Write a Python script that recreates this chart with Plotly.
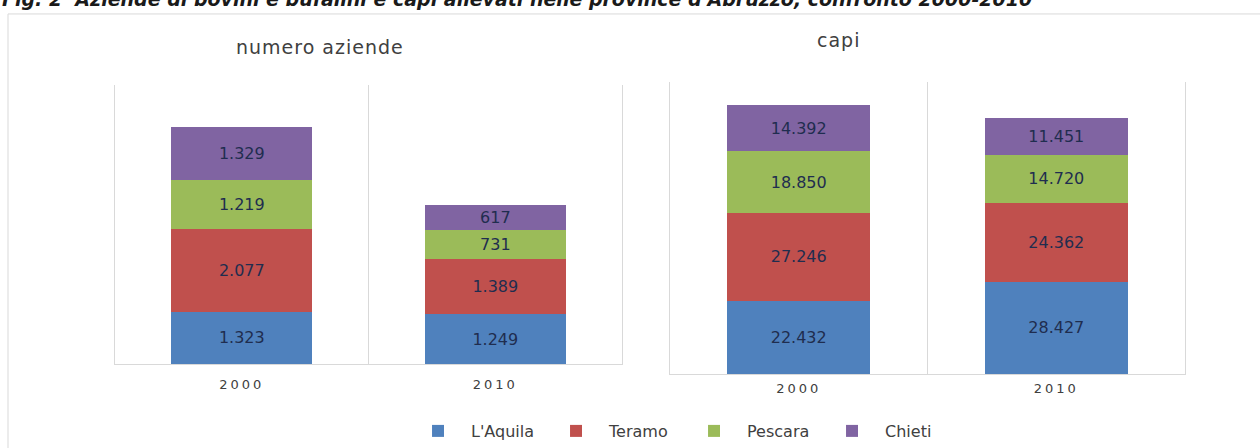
import plotly.graph_objects as go

# Anni di confronto
anni = ["2000", "2010"]

# Province d'Abruzzo e colori delle serie
province = ["L'Aquila", "Teramo", "Pescara", "Chieti"]
colori = ["#4F81BD", "#C0504D", "#9BBB59", "#8064A2"]

# Numero aziende con bovini e bufalini
aziende_laquila = [1323, 1249]
aziende_teramo = [2077, 1389]
aziende_pescara = [1219, 731]
aziende_chieti = [1329, 617]

# Capi allevati
capi_laquila = [22432, 28427]
capi_teramo = [27246, 24362]
capi_pescara = [18850, 14720]
capi_chieti = [14392, 11451]

serie_aziende = [aziende_laquila, aziende_teramo, aziende_pescara, aziende_chieti]
serie_capi = [capi_laquila, capi_teramo, capi_pescara, capi_chieti]

FONT = "DejaVu Sans"
LABEL_COLOR = "#1F2D4F"
GRID = "#D9D9D9"


def spaced(txt, px):
    """Testo con spaziatura tra i caratteri."""
    return f"<span style='letter-spacing:{px}px'>{txt}</span>"


fig = go.Figure()

for nome, colore, az, cp in zip(province, colori, serie_aziende, serie_capi):
    common = dict(
        name=nome,
        marker=dict(color=colore, line=dict(width=0)),
        texttemplate="%{y:,}",
        textposition="inside",
        insidetextanchor="middle",
        textangle=0,
        constraintext="none",
        textfont=dict(family=FONT, size=16, color=LABEL_COLOR),
        legendgroup=nome,
    )
    fig.add_trace(go.Bar(x=anni, y=az, xaxis="x", yaxis="y", showlegend=True, **common))
    fig.add_trace(go.Bar(x=anni, y=cp, xaxis="x2", yaxis="y2", showlegend=False, **common))

xaxis_style = dict(
    type="category",
    tickson="boundaries",
    tickmode="array",
    tickvals=anni,
    ticktext=[spaced(a, 3) for a in anni],
    showgrid=True,
    gridcolor=GRID,
    gridwidth=1,
    showline=True,
    linecolor=GRID,
    linewidth=1,
    ticks="",
    zeroline=False,
    tickfont=dict(family=FONT, size=13, color="#404040"),
    fixedrange=True,
)

yaxis_style = dict(
    visible=True,
    showticklabels=False,
    showgrid=False,
    zeroline=False,
    showline=True,
    mirror=True,
    linecolor=GRID,
    linewidth=1,
    ticks="",
    fixedrange=True,
)

fig.update_layout(
    width=1260,
    height=448,
    margin=dict(l=0, r=0, t=0, b=0),
    paper_bgcolor="white",
    plot_bgcolor="white",
    barmode="stack",
    bargap=0.445,
    separators=",.",
    xaxis=dict(domain=[0.0913, 0.4937], anchor="y", ticklabelstandoff=8, **xaxis_style),
    yaxis=dict(domain=[0.183, 0.810], range=[0, 7000], anchor="x", **yaxis_style),
    xaxis2=dict(domain=[0.5317, 0.9405], anchor="y2", ticklabelstandoff=2, **xaxis_style),
    yaxis2=dict(domain=[0.161, 0.817], range=[0, 90000], anchor="x2", **yaxis_style),
    showlegend=True,
    legend=dict(
        orientation="h",
        x=0.5405,
        xanchor="center",
        y=0.033,
        yanchor="middle",
        itemwidth=56,
        entrywidth=67,
        font=dict(family=FONT, size=16, color="#404040"),
        bgcolor="rgba(0,0,0,0)",
        traceorder="normal",
    ),
    shapes=[
        dict(
            type="rect",
            xref="paper",
            yref="paper",
            x0=8 / 1260,
            x1=1.01,
            y0=-0.01,
            y1=(448 - 14) / 448,
            line=dict(color=GRID, width=1),
            fillcolor="rgba(0,0,0,0)",
            layer="below",
        )
    ],
    annotations=[
        dict(
            text="Fig. 2  Aziende di bovini e bufalini e capi allevati nelle province d'Abruzzo, confronto 2000-2010",
            xref="paper",
            yref="paper",
            x=0,
            xanchor="left",
            y=0.972,
            yanchor="bottom",
            showarrow=False,
            font=dict(family=FONT, size=19, color="#1A1A1A", weight="bold", style="italic"),
        ),
        dict(
            text=spaced("numero aziende", 1),
            xref="paper",
            yref="paper",
            x=320 / 1260,
            y=(448 - 47) / 448,
            xanchor="center",
            yanchor="middle",
            showarrow=False,
            font=dict(family=FONT, size=19, color="#404040"),
        ),
        dict(
            text=spaced("capi", 1),
            xref="paper",
            yref="paper",
            x=838 / 1260,
            y=(448 - 40) / 448,
            xanchor="center",
            yanchor="middle",
            showarrow=False,
            font=dict(family=FONT, size=19, color="#404040"),
        ),
    ],
)

fig.write_html("out.html")
